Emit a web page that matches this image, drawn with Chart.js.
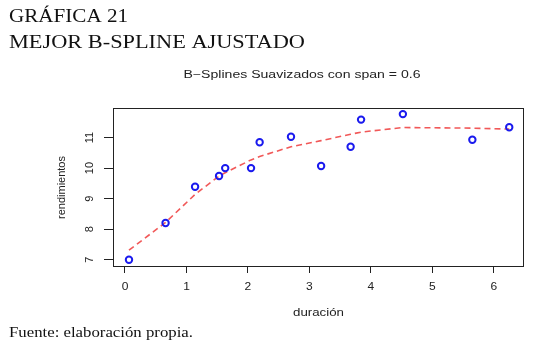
<!DOCTYPE html>
<html>
<head>
<meta charset="utf-8">
<script src="https://cdn.jsdelivr.net/npm/chart.js@4/dist/chart.umd.min.js"></script>
<style>
  html, body { margin: 0; padding: 0; background: #fff; }
  #wrap { position: relative; width: 534px; height: 354px; }
</style>
</head>
<body>
<div id="wrap"><canvas id="chart" width="534" height="354"></canvas></div>
<script>
// datos
const duracion = [0.065, 0.66, 1.14, 1.53, 1.63, 2.05, 2.19, 2.70, 3.19, 3.67, 3.84, 4.52, 5.65, 6.25];
const rendimientos = [7.0, 8.2, 9.39, 9.74, 10.0, 10.0, 10.85, 11.03, 10.07, 10.70, 11.59, 11.77, 10.93, 11.34];
const ajustado = [7.31, 8.22, 9.14, 9.74, 9.85, 10.27, 10.38, 10.70, 10.90, 11.11, 11.18, 11.33, 11.31, 11.28];
const xTicks = [0, 1, 2, 3, 4, 5, 6];
const yTicks = [7, 8, 9, 10, 11];

const tituloGrafica = ['GRÁFICA 21', 'MEJOR B-SPLINE AJUSTADO'];
const tituloPlot = 'B\u2212Splines Suavizados con span = 0.6';
const fuente = 'Fuente: elaboración propia.';

const sans = '"Liberation Sans", Arial, sans-serif';
const serif = '"Liberation Serif", "Times New Roman", serif';

// texto estirado en horizontal hasta un ancho dado (la imagen original está ensanchada)
function textoAncho(ctx, texto, x, y, ancho, align) {
    const w = ctx.measureText(texto).width;
    const sx = ancho / w;
    ctx.save();
    ctx.translate(x, y);
    ctx.scale(sx, 1);
    ctx.textAlign = align;
    ctx.fillText(texto, 0, 0);
    ctx.restore();
}

// Dibuja textos, marco y etiquetas de los ejes
const textosPlugin = {
    id: 'textos',
    afterDraw(chart) {
        const ctx = chart.ctx;
        const area = chart.chartArea;
        const xScale = chart.scales.x;
        const yScale = chart.scales.y;
        ctx.save();

        // marco del panel
        ctx.strokeStyle = '#222';
        ctx.lineWidth = 1;
        ctx.strokeRect(area.left + 0.5, area.top + 0.5, area.right - area.left - 1, area.bottom - area.top - 1);

        // encabezados en serif
        ctx.fillStyle = '#111';
        ctx.textBaseline = 'alphabetic';
        ctx.font = '19px ' + serif;
        textoAncho(ctx, tituloGrafica[0], 9, 22, 119, 'left');
        textoAncho(ctx, tituloGrafica[1], 9, 48, 296, 'left');
        ctx.font = '15px ' + serif;
        textoAncho(ctx, fuente, 9, 337, 184, 'left');

        // título del gráfico
        ctx.fillStyle = '#222';
        ctx.textBaseline = 'middle';
        ctx.font = '10px ' + sans;
        textoAncho(ctx, tituloPlot, 302, 75.5, 237, 'center');

        // etiqueta eje x
        textoAncho(ctx, 'duración', (area.left + area.right) / 2, 313, 51, 'center');

        // etiquetas de ticks del eje x
        ctx.font = '10px ' + sans;
        xTicks.forEach(v => {
            const px = xScale.getPixelForValue(v);
            const w = ctx.measureText(String(v)).width * 1.2;
            textoAncho(ctx, String(v), px, 287, w, 'center');
        });

        // etiqueta eje y
        ctx.font = '11px ' + sans;
        ctx.textAlign = 'center';
        ctx.save();
        ctx.translate(62, (area.top + area.bottom) / 2);
        ctx.rotate(-Math.PI / 2);
        ctx.fillText('rendimientos', 0, 0);
        ctx.restore();

        // etiquetas de ticks del eje y (rotadas como en R)
        ctx.font = '11px ' + sans;
        yTicks.forEach(v => {
            const py = yScale.getPixelForValue(v);
            ctx.save();
            ctx.translate(90, py);
            ctx.rotate(-Math.PI / 2);
            ctx.fillText(String(v), 0, 0);
            ctx.restore();
        });

        ctx.restore();
    }
};

new Chart(document.getElementById('chart'), {
    type: 'scatter',
    data: {
        datasets: [
            {
                label: 'ajustado',
                type: 'line',
                data: duracion.map((x, i) => ({ x: x, y: ajustado[i] })),
                borderColor: 'rgba(240, 70, 70, 0.9)',
                borderWidth: 1.6,
                borderDash: [6, 4],
                pointRadius: 0,
                fill: false,
                tension: 0,
                order: 2
            },
            {
                label: 'rendimientos',
                data: duracion.map((x, i) => ({ x: x, y: rendimientos[i] })),
                borderColor: '#1a1aee',
                backgroundColor: 'rgba(255,255,255,0)',
                borderWidth: 2,
                pointRadius: 3.2,
                pointHoverRadius: 3.2,
                order: 1
            }
        ]
    },
    options: {
        responsive: false,
        animation: false,
        events: [],
        layout: { padding: { top: 108, right: 10, left: 0, bottom: 0 } },
        plugins: {
            legend: { display: false },
            tooltip: { enabled: false },
            title: { display: false }
        },
        scales: {
            x: {
                type: 'linear',
                min: -0.195,
                max: 6.49,
                afterBuildTicks: (scale) => { scale.ticks = xTicks.map(v => ({ value: v })); },
                afterFit: (scale) => { scale.height = 354 - 267; },
                grid: { drawOnChartArea: false, drawTicks: true, tickLength: 6, color: '#222', lineWidth: 1 },
                border: { display: false },
                ticks: { display: false }
            },
            y: {
                type: 'linear',
                min: 6.76,
                max: 11.97,
                afterBuildTicks: (scale) => { scale.ticks = yTicks.map(v => ({ value: v })); },
                afterFit: (scale) => { scale.width = 113; },
                grid: { drawOnChartArea: false, drawTicks: true, tickLength: 9, color: '#222', lineWidth: 1 },
                border: { display: false },
                ticks: { display: false }
            }
        }
    },
    plugins: [textosPlugin]
});
</script>
</body>
</html>
